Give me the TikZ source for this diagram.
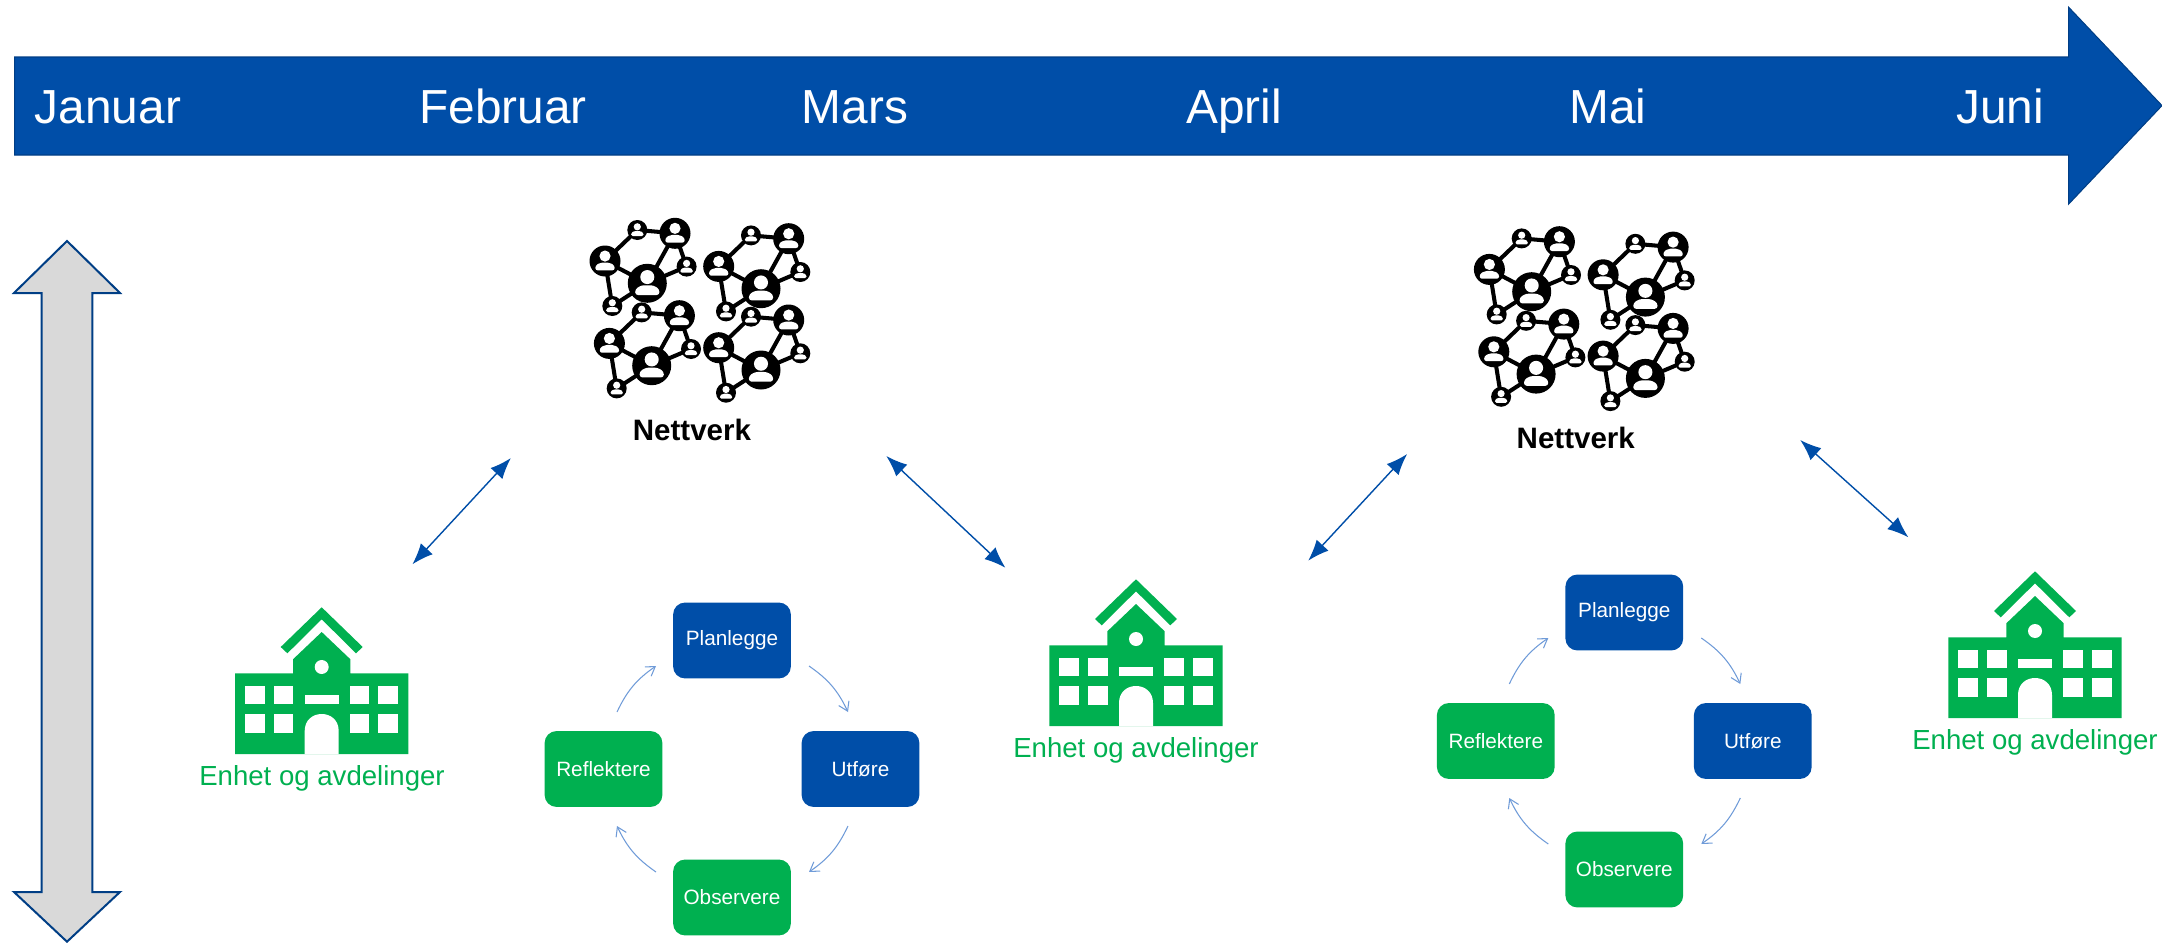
\documentclass[tikz,border=0pt]{standalone}
\usepackage{fontspec}
\setmainfont{Liberation Sans}
\usetikzlibrary{arrows.meta, calc, positioning}

\definecolor{mainblue}{HTML}{004EA8}
\definecolor{darkblue}{HTML}{003E85}
\definecolor{schoolgreen}{HTML}{00B050}
\definecolor{shaftgray}{HTML}{D9D9D9}
\definecolor{cyclearrow}{HTML}{6F9BD8}

\newcommand{\person}[3]{
    \fill[black] (#1, #2) circle (#3);
    \fill[white] ($(#1, #2) + (0, -0.32*#3)$) circle (0.36*#3);
    \fill[white, rounded corners=0.04*#3] ($(#1, #2) + (-0.62*#3, 0.6*#3)$) -- ($(#1, #2) + (-0.62*#3, 0.3*#3)$) -- ($(#1, #2) + (-0.3*#3, 0.1*#3)$) -- ($(#1, #2) + (0.3*#3, 0.1*#3)$) -- ($(#1, #2) + (0.62*#3, 0.3*#3)$) -- ($(#1, #2) + (0.62*#3, 0.6*#3)$) -- cycle;
}

\tikzset{
    month/.style={anchor=base, text=white, font=\fontsize{13.6pt}{16pt}\selectfont},
    stepbox/.style={rounded corners=3.4pt, minimum width=33.5pt, minimum height=21.6pt, inner sep=0pt, text=white, font=\fontsize{5.9pt}{7pt}\selectfont},
    netlabel/.style={anchor=base, font=\fontsize{8.4pt}{10pt}\selectfont\bfseries},
    schoollabel/.style={anchor=base, text=schoolgreen, font=\fontsize{7.85pt}{9pt}\selectfont},
    linkarrow/.style={{Latex[length=6pt, width=4.6pt]}-{Latex[length=6pt, width=4.6pt]}, mainblue, line width=0.4pt},
    cyclelink/.style={-{Straight Barb[length=2.5pt, width=3.2pt]}, cyclearrow, line width=0.3pt, bend left=15},
    pics/cluster/.style={code={
        \draw[black, line width=1.15pt] (0, 0) -- (-42.3, -22.3) -- (-10, -53.3) -- (27.7, -50) -- (0, 0) -- (39.3, -16.7) -- (27.7, -50);
        \draw[black, line width=1.15pt] (-42.3, -22.3) -- (-35, 22.7) -- (0, 0);
        \person{0}{0}{19.5}
        \person{-42.3}{-22.3}{15.5}
        \person{27.7}{-50}{15.5}
        \person{-10}{-53.3}{10}
        \person{39.3}{-16.7}{10}
        \person{-35}{22.7}{10}
    }},
    pics/network/.style={code={
        \pic at (0, 0) {cluster};
        \pic at (113.7, 5.4) {cluster};
        \pic at (4.4, 82.4) {cluster};
        \pic at (113.7, 86.7) {cluster};
    }},
    pics/school/.style={code={
        \fill[schoolgreen] (-86.7, 0) -- (-86.7, -80.7) -- (-28.7, -80.7) -- (-28.7, -94.7) -- (0, -122) -- (28.7, -94.7) -- (28.7, -80.7) -- (86.7, -80.7) -- (86.7, 0) -- cycle;
        \fill[schoolgreen] (-41, -107) -- (0, -146.7) -- (41, -107) -- (34.3, -100.7) -- (0, -134.7) -- (-34.3, -100.7) -- cycle;
        \fill[white] (0, -87) circle (7);
        \fill[white] (-76.7, -68.3) rectangle (-56.7, -49.7);
        \fill[white] (-47.7, -68.3) rectangle (-28.3, -49.7);
        \fill[white] (-76.7, -40) rectangle (-56.7, -21.3);
        \fill[white] (-47.7, -40) rectangle (-28.3, -21.3);
        \fill[white] (28.3, -68.3) rectangle (47.7, -49.7);
        \fill[white] (56.7, -68.3) rectangle (76.7, -49.7);
        \fill[white] (28.3, -40) rectangle (47.7, -21.3);
        \fill[white] (56.7, -40) rectangle (76.7, -21.3);
        \fill[white] (-17, -59) rectangle (17, -49.7);
        \fill[white] (-17, 0) -- (-17, -23) .. controls (-17, -34) and (-9, -40) .. (0, -40) .. controls (9, -40) and (17, -34) .. (17, -23) -- (17, 0) -- cycle;
    }},
    pics/cycle/.style={code={
        \node[stepbox, fill=mainblue] (-plan) at (0, -128.5) {Planlegge};
        \node[stepbox, fill=mainblue] (-act) at (128.5, 0) {Utføre};
        \node[stepbox, fill=schoolgreen] (-obs) at (0, 128.5) {Observere};
        \node[stepbox, fill=schoolgreen] (-refl) at (-128.5, 0) {Reflektere};

        \coordinate (-a1) at (77, -103);
        \coordinate (-a2) at (116, -57);
        \coordinate (-b1) at (116, 57);
        \coordinate (-b2) at (77, 103);
        \coordinate (-c1) at (-76, 103);
        \coordinate (-c2) at (-115, 57);
        \coordinate (-d1) at (-115, -57);
        \coordinate (-d2) at (-76, -103);

        \draw[cyclelink] (-a1) to (-a2);
        \draw[cyclelink] (-b1) to (-b2);
        \draw[cyclelink] (-c1) to (-c2);
        \draw[cyclelink] (-d1) to (-d2);
    }}
}

\begin{document}
\begin{tikzpicture}[x=0.1mm, y=-0.1mm]
    \useasboundingbox (0, 0) rectangle (2162, 943);

    \draw[fill=mainblue, draw=darkblue, line width=0.3pt] (14.7, 57) -- (2068.7, 57) -- (2068.7, 7.3) -- (2162, 105.6) -- (2068.7, 204) -- (2068.7, 155) -- (14.7, 155) -- cycle;

    \node[month] (jan) at (108, 123) {Januar};
    \node[month] (feb) at (503, 123) {Februar};
    \node[month] (mar) at (855, 123) {Mars};
    \node[month] (apr) at (1234, 123) {April};
    \node[month] (mai) at (1608, 123) {Mai};
    \node[month] (jun) at (2000, 123) {Juni};

    \draw[fill=shaftgray, draw=darkblue, line width=0.57pt] (67, 241) -- (120, 293) -- (92.3, 293) -- (92.3, 892) -- (120, 892) -- (67, 941.7) -- (14, 892) -- (41.7, 892) -- (41.7, 293) -- (14, 293) -- cycle;

    \pic at (647.3, 283.3) {network};
    \pic at (1531.7, 291.7) {network};
    \node[netlabel] (net1) at (692, 440.7) {Nettverk};
    \node[netlabel] (net2) at (1575.8, 448) {Nettverk};

    \pic at (321.7, 754) {school};
    \pic at (1136, 726) {school};
    \pic at (2035, 718) {school};
    \node[schoollabel] (unit1) at (322, 785) {Enhet og avdelinger};
    \node[schoollabel] (unit2) at (1136, 757) {Enhet og avdelinger};
    \node[schoollabel] (unit3) at (2035, 749) {Enhet og avdelinger};

    \pic (first) at (732, 769) {cycle};
    \pic (second) at (1624.3, 741) {cycle};

    \coordinate (l1a) at (412.4, 564.3);
    \coordinate (l1b) at (510.9, 458);
    \coordinate (l2a) at (886.3, 456);
    \coordinate (l2b) at (1005.4, 567.7);
    \coordinate (l3a) at (1308.2, 560.7);
    \coordinate (l3b) at (1407.1, 454);
    \coordinate (l4a) at (1800.2, 440);
    \coordinate (l4b) at (1908.4, 537.3);

    \draw[linkarrow] (l1a) -- (l1b);
    \draw[linkarrow] (l2a) -- (l2b);
    \draw[linkarrow] (l3a) -- (l3b);
    \draw[linkarrow] (l4a) -- (l4b);
\end{tikzpicture}
\end{document}
